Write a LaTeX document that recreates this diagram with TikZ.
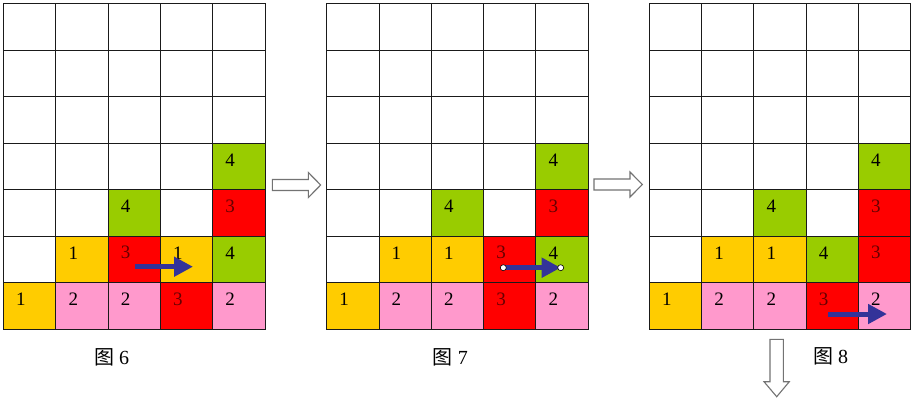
\documentclass[tikz,border=0pt]{standalone}
\usepackage{fontspec}
\setmainfont{Liberation Serif}
\newfontfamily\cjk{Noto Sans CJK SC}
\usetikzlibrary{arrows.meta,calc}
\definecolor{cyel}{HTML}{FFCC00}
\definecolor{cpink}{HTML}{FF99CC}
\definecolor{cred}{HTML}{FF0000}
\definecolor{cgreen}{HTML}{99CC00}
\definecolor{cblue}{HTML}{333399}
\definecolor{cdark}{HTML}{660000}
\definecolor{cline}{HTML}{1A1A1A}
\newcommand\mycell[4]{%
  \node[cell,fill=#2] (#1f) at (#1) {};
  \node[digit,text=#3] (#1t) at ($(#1)+(-8.7,-6.5)$) {#4};}
\begin{document}
\begin{tikzpicture}[x=1pt,y=-1pt,
  cell/.style={draw=cline,line width=0.9pt,minimum width=52.3pt,minimum height=46.5pt,inner sep=0pt,outer sep=0pt},
  digit/.style={font=\fontsize{19}{19}\selectfont,inner sep=0pt},
  caption/.style={font=\fontsize{20}{20}\selectfont,inner sep=0pt},
  hollow/.style={draw=black!55,fill=white,line width=1.1pt,line join=miter},
  move/.style={draw=cblue,line width=5pt,-{Triangle[length=19pt,width=19pt]}},
  handle/.style={circle,draw=black,fill=white,line width=0.6pt,minimum size=6pt,inner sep=0pt}]
\fill[white] (0,0) rectangle (917,400);
\useasboundingbox (0,0) rectangle (917,400);
\foreach \g/\gx in {1/3.5,2/326.7,3/649.3}{
  \foreach \c in {0,...,4}{
    \foreach \r in {0,...,6}{
      \node[cell] (g\g-\c-\r) at ({\gx+\c*52.3+26.15},{3.5+\r*46.5+23.25}) {};
    }}}
% grid 1
\mycell{g1-4-3}{cgreen}{black}{4}
\mycell{g1-2-4}{cgreen}{black}{4}
\mycell{g1-4-4}{cred}{cdark}{3}
\mycell{g1-1-5}{cyel}{black}{1}
\mycell{g1-2-5}{cred}{cdark}{3}
\mycell{g1-3-5}{cyel}{black}{1}
\mycell{g1-4-5}{cgreen}{black}{4}
\mycell{g1-0-6}{cyel}{black}{1}
\mycell{g1-1-6}{cpink}{black}{2}
\mycell{g1-2-6}{cpink}{black}{2}
\mycell{g1-3-6}{cred}{cdark}{3}
\mycell{g1-4-6}{cpink}{black}{2}
% grid 2
\mycell{g2-4-3}{cgreen}{black}{4}
\mycell{g2-2-4}{cgreen}{black}{4}
\mycell{g2-4-4}{cred}{cdark}{3}
\mycell{g2-1-5}{cyel}{black}{1}
\mycell{g2-2-5}{cyel}{black}{1}
\mycell{g2-3-5}{cred}{cdark}{3}
\mycell{g2-4-5}{cgreen}{black}{4}
\mycell{g2-0-6}{cyel}{black}{1}
\mycell{g2-1-6}{cpink}{black}{2}
\mycell{g2-2-6}{cpink}{black}{2}
\mycell{g2-3-6}{cred}{cdark}{3}
\mycell{g2-4-6}{cpink}{black}{2}
% grid 3
\mycell{g3-4-3}{cgreen}{black}{4}
\mycell{g3-2-4}{cgreen}{black}{4}
\mycell{g3-4-4}{cred}{cdark}{3}
\mycell{g3-1-5}{cyel}{black}{1}
\mycell{g3-2-5}{cyel}{black}{1}
\mycell{g3-3-5}{cgreen}{black}{4}
\mycell{g3-4-5}{cred}{cdark}{3}
\mycell{g3-0-6}{cyel}{black}{1}
\mycell{g3-1-6}{cpink}{black}{2}
\mycell{g3-2-6}{cpink}{black}{2}
\mycell{g3-3-6}{cred}{cdark}{3}
\mycell{g3-4-6}{cpink}{black}{2}
% blue move arrows
\coordinate (m1s) at (135,266.7);
\coordinate (m1e) at (193,266.7);
\draw[move] (m1s) -- (m1e);
\coordinate (m2s) at (503.3,267.7);
\coordinate (m2e) at (560.7,267.7);
\draw[move] (m2s) -- (m2e);
\node[handle] (h2s) at (m2s) {};
\node[handle] (h2e) at (m2e) {};
\coordinate (m3s) at (828.3,314);
\coordinate (m3e) at (887,314);
\draw[move] (m3s) -- (m3e);
% hollow arrows
\draw[hollow] (272.3,179.5) -- (308.3,179.5) -- (308.3,172.5) -- (320.7,185) -- (308.3,197.5) -- (308.3,190.5) -- (272.3,190.5) -- cycle;
\draw[hollow] (594,179) -- (630,179) -- (630,172) -- (642.4,184.5) -- (630,197) -- (630,190) -- (594,190) -- cycle;
\draw[hollow] (770,339.3) -- (783.3,339.3) -- (783.3,381.7) -- (789.3,381.7) -- (776.7,396.7) -- (764,381.7) -- (770,381.7) -- cycle;
% captions
\node[caption] (c6) at (111.7,357) {{\cjk 图} 6};
\node[caption] (c7) at (450.3,357) {{\cjk 图} 7};
\node[caption] (c8) at (830.7,356) {{\cjk 图} 8};
\end{tikzpicture}
\end{document}
